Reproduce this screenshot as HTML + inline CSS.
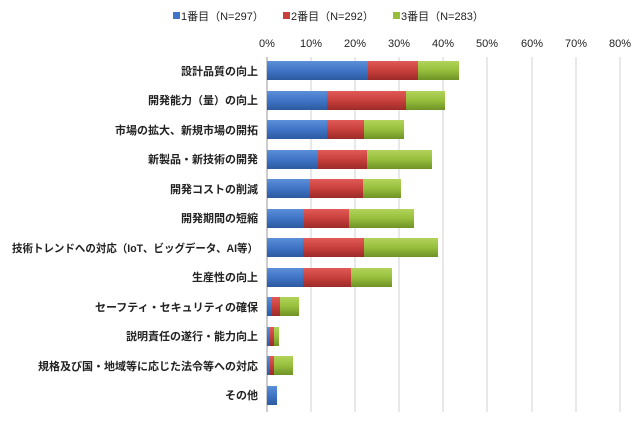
<!DOCTYPE html>
<html><head><meta charset="utf-8"><style>
body{margin:0;background:#fff;}
svg text{font-family:"Liberation Sans","Noto Sans CJK JP",sans-serif;fill:#222;}
</style></head><body>
<svg width="640" height="417" xmlns="http://www.w3.org/2000/svg">
<defs>
<linearGradient id="b" x1="0" y1="0" x2="0" y2="1"><stop offset="0" stop-color="#5b8fd8"/><stop offset=".5" stop-color="#3f74c6"/><stop offset="1" stop-color="#2c5aa0"/></linearGradient>
<linearGradient id="r" x1="0" y1="0" x2="0" y2="1"><stop offset="0" stop-color="#e05a57"/><stop offset=".5" stop-color="#c8403c"/><stop offset="1" stop-color="#9c2a28"/></linearGradient>
<linearGradient id="g" x1="0" y1="0" x2="0" y2="1"><stop offset="0" stop-color="#b2d35a"/><stop offset=".5" stop-color="#97bf3c"/><stop offset="1" stop-color="#6f9226"/></linearGradient>
</defs>
<g font-size="11">
<rect x="173" y="12" width="7" height="7" fill="#3f74c6"/><text x="181" y="20">1番目（N=297）</text>
<rect x="283" y="12" width="7" height="7" fill="#c8403c"/><text x="291" y="20">2番目（N=292）</text>
<rect x="393" y="12" width="7" height="7" fill="#97bf3c"/><text x="401" y="20">3番目（N=283）</text>
</g>
<g stroke="#d0d0d0" stroke-width="1">
<line x1="311" y1="57" x2="311" y2="412"/><line x1="355" y1="57" x2="355" y2="412"/><line x1="399" y1="57" x2="399" y2="412"/><line x1="443" y1="57" x2="443" y2="412"/><line x1="487" y1="57" x2="487" y2="412"/><line x1="532" y1="57" x2="532" y2="412"/><line x1="576" y1="57" x2="576" y2="412"/><line x1="620" y1="57" x2="620" y2="412"/>
</g>
<line x1="267" y1="57" x2="267" y2="412" stroke="#999"/>
<g font-size="11" text-anchor="middle">
<text x="267" y="47">0%</text><text x="311" y="47">10%</text><text x="355" y="47">20%</text><text x="399" y="47">30%</text><text x="443" y="47">40%</text><text x="487" y="47">50%</text><text x="532" y="47">60%</text><text x="576" y="47">70%</text><text x="620" y="47">80%</text>
</g>
<g id="bars">
<rect x="267" y="61" width="101" height="19" fill="url(#b)"/><rect x="368" y="61" width="50" height="19" fill="url(#r)"/><rect x="418" y="61" width="41" height="19" fill="url(#g)"/>
<rect x="267" y="91" width="60" height="19" fill="url(#b)"/><rect x="327" y="91" width="79" height="19" fill="url(#r)"/><rect x="406" y="91" width="39" height="19" fill="url(#g)"/>
<rect x="267" y="120" width="60" height="19" fill="url(#b)"/><rect x="327" y="120" width="37" height="19" fill="url(#r)"/><rect x="364" y="120" width="40" height="19" fill="url(#g)"/>
<rect x="267" y="150" width="51" height="19" fill="url(#b)"/><rect x="318" y="150" width="49" height="19" fill="url(#r)"/><rect x="367" y="150" width="65" height="19" fill="url(#g)"/>
<rect x="267" y="179" width="43" height="19" fill="url(#b)"/><rect x="310" y="179" width="53" height="19" fill="url(#r)"/><rect x="363" y="179" width="38" height="19" fill="url(#g)"/>
<rect x="267" y="209" width="37" height="19" fill="url(#b)"/><rect x="304" y="209" width="45" height="19" fill="url(#r)"/><rect x="349" y="209" width="65" height="19" fill="url(#g)"/>
<rect x="267" y="238" width="36" height="19" fill="url(#b)"/><rect x="303" y="238" width="61" height="19" fill="url(#r)"/><rect x="364" y="238" width="74" height="19" fill="url(#g)"/>
<rect x="267" y="268" width="36" height="19" fill="url(#b)"/><rect x="303" y="268" width="48" height="19" fill="url(#r)"/><rect x="351" y="268" width="41" height="19" fill="url(#g)"/>
<rect x="267" y="297" width="5" height="19" fill="url(#b)"/><rect x="272" y="297" width="8" height="19" fill="url(#r)"/><rect x="280" y="297" width="19" height="19" fill="url(#g)"/>
<rect x="267" y="327" width="3" height="19" fill="url(#b)"/><rect x="270" y="327" width="4" height="19" fill="url(#r)"/><rect x="274" y="327" width="5" height="19" fill="url(#g)"/>
<rect x="267" y="356" width="3" height="19" fill="url(#b)"/><rect x="270" y="356" width="4" height="19" fill="url(#r)"/><rect x="274" y="356" width="19" height="19" fill="url(#g)"/>
<rect x="267" y="386" width="10" height="19" fill="url(#b)"/>
</g>
<g font-size="11" text-anchor="end" font-weight="bold">
<text x="258" y="75">設計品質の向上</text>
<text x="258" y="104">開発能力（量）の向上</text>
<text x="258" y="134">市場の拡大、新規市場の開拓</text>
<text x="258" y="163">新製品・新技術の開発</text>
<text x="258" y="193">開発コストの削減</text>
<text x="258" y="222">開発期間の短縮</text>
<text x="258" y="252" textLength="246" lengthAdjust="spacingAndGlyphs">技術トレンドへの対応（IoT、ビッグデータ、AI等）</text>
<text x="258" y="281">生産性の向上</text>
<text x="258" y="311">セーフティ・セキュリティの確保</text>
<text x="258" y="340">説明責任の遂行・能力向上</text>
<text x="258" y="370">規格及び国・地域等に応じた法令等への対応</text>
<text x="258" y="399">その他</text>
</g>
</svg>
</body></html>
